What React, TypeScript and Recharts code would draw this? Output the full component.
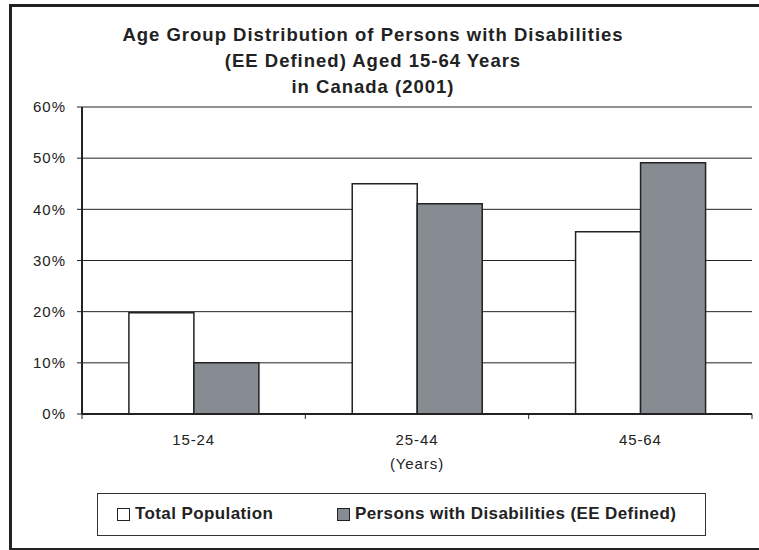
import React from 'react';
import { BarChart, Bar, XAxis, YAxis, CartesianGrid } from 'recharts';

// Age groups (years) and share of each population in that group (%)
const ageGroups = ['15-24', '25-44', '45-64'];
const totalPopulation = [19.8, 45.0, 35.6];
const personsWithDisabilities = [10.0, 41.1, 49.1];
const yTicks = [0, 10, 20, 30, 40, 50, 60];

const seriesNames = ['Total Population', 'Persons with Disabilities (EE Defined)'];
const seriesColors = ['#ffffff', '#878c92'];
const titleLines = [
  'Age Group Distribution of Persons with Disabilities',
  '(EE Defined) Aged 15-64 Years',
  'in Canada (2001)',
];

const data = ageGroups.map((g, i) => ({
  group: g,
  total: totalPopulation[i],
  disabled: personsWithDisabilities[i],
}));

const FONT = '"Liberation Sans", Arial, Helvetica, sans-serif';
const INK = '#222222';

// Category label centred in its band, plus tick marks on the band boundaries
const CategoryTick = (props: any) => {
  const { x, y, payload, index } = props;
  const half = payload?.offset ?? 0;
  const last = index === ageGroups.length - 1;
  return (
    <g>
      <line x1={x - half} y1={y} x2={x - half} y2={y + 5} stroke={INK} strokeWidth={1} />
      {last && <line x1={x + half} y1={y} x2={x + half} y2={y + 5} stroke={INK} strokeWidth={1} />}
      <text x={x} y={y + 31} textAnchor="middle" fontFamily={FONT} fontSize={15} letterSpacing={0.9} fill={INK}>
        {payload.value}
      </text>
      {index === 1 && (
        <text x={x} y={y + 55} textAnchor="middle" fontFamily={FONT} fontSize={15} letterSpacing={0.9} fill={INK}>
          (Years)
        </text>
      )}
    </g>
  );
};

export default function App() {
  return (
    <div
      style={{
        position: 'absolute',
        left: 0,
        top: 0,
        width: 759,
        height: 550,
        overflow: 'hidden',
        background: '#ffffff',
      }}
    >
      {/* outer frame */}
      <div
        style={{
          position: 'absolute',
          left: 9,
          top: 4,
          width: 780,
          height: 541,
          border: `3px solid ${INK}`,
        }}
      />
      {/* title */}
      <svg width={759} height={110} style={{ position: 'absolute', left: 0, top: 0 }}>
        {titleLines.map((line, i) => (
          <text
            key={i}
            x={373}
            y={41 + i * 26}
            textAnchor="middle"
            fontFamily={FONT}
            fontWeight="bold"
            fontSize={18.5}
            letterSpacing={1}
            fill={INK}
          >
            {line}
          </text>
        ))}
      </svg>
      <div style={{ position: 'absolute', left: 0, top: 0 }}>
        <BarChart
          width={759}
          height={550}
          data={data}
          margin={{ top: 107, right: 7, bottom: 80, left: 0 }}
          barCategoryGap="21%"
          barGap={0}
        >
          <CartesianGrid vertical={false} stroke={INK} strokeWidth={1} />
          <XAxis
            dataKey="group"
            height={56}
            axisLine={{ stroke: INK, strokeWidth: 2 }}
            tickLine={false}
            tickSize={0}
            tickMargin={0}
            interval={0}
            tick={<CategoryTick />}
          />
          <YAxis
            width={82}
            domain={[0, 60]}
            ticks={yTicks}
            tickFormatter={(v: number) => `${v}%`}
            axisLine={{ stroke: INK, strokeWidth: 2 }}
            tickLine={{ stroke: INK }}
            tickSize={5}
            tickMargin={11}
            tick={{ fontFamily: FONT, fontSize: 15, fill: INK, letterSpacing: 1 }}
          />
          <YAxis
            yAxisId="frame"
            orientation="right"
            width={0}
            domain={[0, 60]}
            tick={false}
            tickLine={false}
            axisLine={{ stroke: INK, strokeWidth: 2 }}
          />
          <Bar
            dataKey="total"
            name={seriesNames[0]}
            fill={seriesColors[0]}
            stroke={INK}
            strokeWidth={1.5}
            isAnimationActive={false}
          />
          <Bar
            dataKey="disabled"
            name={seriesNames[1]}
            fill={seriesColors[1]}
            stroke={INK}
            strokeWidth={1.5}
            isAnimationActive={false}
          />
        </BarChart>
      </div>
      {/* legend */}
      <div
        style={{
          position: 'absolute',
          left: 97,
          top: 493,
          width: 607,
          height: 41,
          border: '1.5px solid #333333',
          boxSizing: 'content-box',
          fontFamily: FONT,
          fontWeight: 'bold',
          fontSize: 17,
          letterSpacing: 0.4,
          color: INK,
        }}
      >
        {seriesNames.map((name, i) => (
          <div
            key={name}
            style={{
              position: 'absolute',
              left: i === 0 ? 19 : 239,
              top: 10,
              display: 'flex',
              alignItems: 'center',
              whiteSpace: 'nowrap',
              lineHeight: '20px',
            }}
          >
            <span
              style={{
                display: 'inline-block',
                width: 11,
                height: 11,
                border: `1.5px solid ${INK}`,
                background: seriesColors[i],
                marginRight: 5,
              }}
            />
            {name}
          </div>
        ))}
      </div>
    </div>
  );
}
